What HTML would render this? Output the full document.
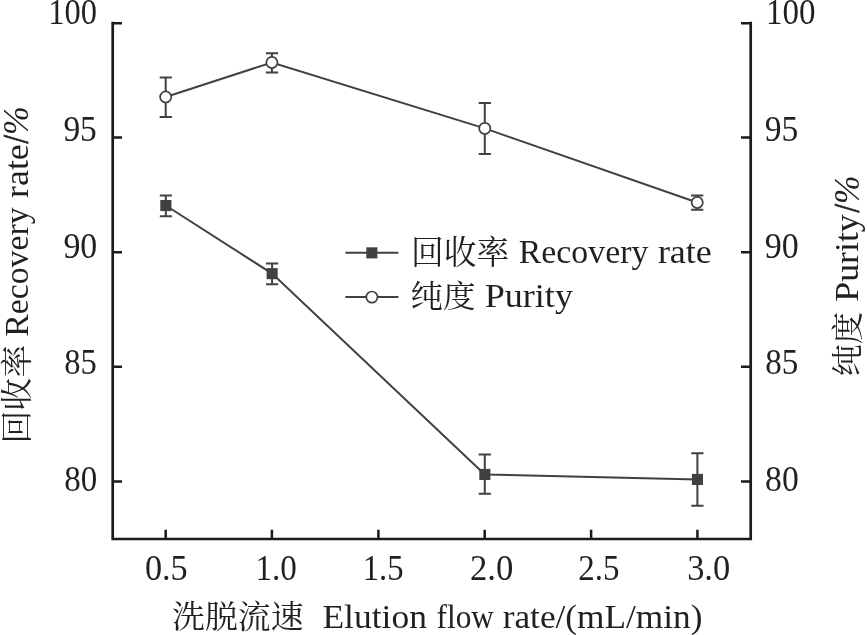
<!DOCTYPE html>
<html lang="zh">
<head>
<meta charset="utf-8">
<title>洗脱流速 Elution flow rate</title>
<style>
  html, body { margin: 0; padding: 0; background: #ffffff; }
  body { width: 867px; height: 635px; overflow: hidden; }
  svg { display: block; }
  text {
    font-family: "Liberation Serif", "Noto Serif CJK SC", serif;
    font-size: 34px;
    fill: #231f20;
  }
  .cjk { font-family: "Noto Serif CJK SC", "Liberation Serif", serif; font-size: 33px; }
  .it { font-style: italic; }
  .ax { stroke: #1d1a1b; stroke-width: 2.7; fill: none; stroke-linecap: butt; stroke-linejoin: miter; }
  .tk { stroke: #1d1a1b; stroke-width: 2.5; fill: none; }
  .ln { stroke: #414042; stroke-width: 2; fill: none; }
  .eb { stroke: #414042; stroke-width: 2; fill: none; }
  .sq { fill: #414042; stroke: none; }
  .ci { fill: #ffffff; stroke: #414042; stroke-width: 1.7; }
</style>
</head>
<body>
<svg width="867" height="635" viewBox="0 0 867 635">
  <rect x="0" y="0" width="867" height="635" fill="#ffffff"/>

  <!-- axes -->
  <g id="axes">
    <path class="ax" d="M112.7 21.8 V539 H750.7 V21.8"/>
    <path class="tk" d="M112.7 23.2 H122 M112.7 137.5 H122 M112.7 252.3 H122 M112.7 366.8 H122 M112.7 481.4 H122"/>
    <path class="tk" d="M750.7 23.2 H741 M750.7 137.5 H741 M750.7 252.3 H741 M750.7 366.8 H741 M750.7 481.4 H741"/>
    <path class="tk" d="M165.7 539 V529.8 M271.9 539 V529.8 M378.4 539 V529.8 M484.7 539 V529.8 M591.1 539 V529.8 M697.4 539 V529.8"/>
  </g>

  <!-- recovery series -->
  <g id="recovery">
    <polyline class="ln" points="165.8,205.5 272.1,273.6 484.8,474.4 697.4,479.4"/>
    <path class="eb" d="M165.8 195.5 V216.2 M159.8 195.5 H171.9 M159.8 216.2 H171.9"/>
    <path class="eb" d="M272.1 263.4 V284.2 M266 263.4 H278.2 M266 284.2 H278.2"/>
    <path class="eb" d="M484.8 454.6 V493.8 M478.7 454.6 H490.9 M478.7 493.8 H490.9"/>
    <path class="eb" d="M697.4 453.3 V505.7 M691.3 453.3 H703.5 M691.3 505.7 H703.5"/>
    <rect class="sq" x="160.3" y="200" width="11.1" height="11.1"/>
    <rect class="sq" x="266.6" y="268.1" width="11.1" height="11.1"/>
    <rect class="sq" x="479.3" y="468.9" width="11.1" height="11.1"/>
    <rect class="sq" x="691.9" y="473.9" width="11.1" height="11.1"/>
  </g>

  <!-- purity series -->
  <g id="purity">
    <polyline class="ln" points="165.7,97 271.9,62.5 484.8,128.4 697.2,202.5"/>
    <path class="eb" d="M165.7 77.5 V116.9 M159.7 77.5 H171.9 M159.7 116.9 H171.9"/>
    <path class="eb" d="M271.9 53.2 V72.5 M265.9 53.2 H278.1 M265.9 72.5 H278.1"/>
    <path class="eb" d="M484.8 103.1 V154 M478.7 103.1 H490.9 M478.7 154 H490.9"/>
    <path class="eb" d="M697.2 195.4 V209.7 M691.1 195.4 H703.3 M691.1 209.7 H703.3"/>
    <circle class="ci" cx="165.7" cy="97" r="5.6"/>
    <circle class="ci" cx="271.9" cy="62.5" r="5.6"/>
    <circle class="ci" cx="484.8" cy="128.4" r="5.6"/>
    <circle class="ci" cx="697.2" cy="202.5" r="5.6"/>
  </g>

  <!-- legend markers -->
  <g id="legend">
    <path class="ln" d="M345.4 252.8 H398.4"/>
    <rect class="sq" x="366.3" y="247.3" width="11.1" height="11.1"/>
    <path class="ln" d="M345.4 297.1 H398.4"/>
    <circle class="ci" cx="371.9" cy="297.1" r="5.6"/>
  </g>

  <!-- legend labels -->
  <g id="legendtext">
  <text id="lg1c" class="cjk" transform="translate(411.03 263.70) scale(0.9938 1.0000)">回收率</text>
  <text id="lg1e" transform="translate(518.73 262.70) scale(0.9949 1.0200)">Recovery</text>
  <text id="lg1f" transform="translate(657.88 262.70) scale(1.0593 1.0200)">rate</text>
  <text id="lg2c" class="cjk" transform="translate(410.53 307.10) scale(0.9870 0.9400)">纯度</text>
  <text id="lg2e" transform="translate(484.76 306.80) scale(1.0608 1.0200)">Purity</text>
  </g>

  <!-- left tick labels -->
  <g id="ylabL">
  <text id="yl100" transform="translate(48.34 24.20) scale(0.9568 1.0600)">100</text>
  <text id="yl95" transform="translate(63.42 141.00) scale(0.9818 1.0600)">95</text>
  <text id="yl90" transform="translate(63.41 257.80) scale(0.9965 1.0600)">90</text>
  <text id="yl85" transform="translate(64.26 374.40) scale(0.9561 1.0600)">85</text>
  <text id="yl80" transform="translate(64.24 491.20) scale(0.9710 1.0600)">80</text>
  </g>

  <!-- right tick labels -->
  <g id="ylabR">
  <text id="yr100" transform="translate(766.00 24.20) scale(0.9718 1.0600)">100</text>
  <text id="yr95" transform="translate(764.72 141.00) scale(0.9849 1.0600)">95</text>
  <text id="yr90" transform="translate(764.70 257.80) scale(0.9997 1.0600)">90</text>
  <text id="yr85" transform="translate(765.14 374.40) scale(0.9721 1.0600)">85</text>
  <text id="yr80" transform="translate(765.12 491.20) scale(0.9901 1.0600)">80</text>
  </g>

  <!-- x tick labels -->
  <g id="xlab">
  <text id="x05" transform="translate(144.90 580.20) scale(1.0056 1.0600)">0.5</text>
  <text id="x10" transform="translate(255.38 580.20) scale(0.9760 1.0600)">1.0</text>
  <text id="x15" transform="translate(362.73 580.20) scale(0.9611 1.0600)">1.5</text>
  <text id="x20" transform="translate(469.88 580.20) scale(1.0199 1.0600)">2.0</text>
  <text id="x25" transform="translate(578.25 580.20) scale(0.9703 1.0600)">2.5</text>
  <text id="x30" transform="translate(687.15 580.20) scale(1.0132 1.0600)">3.0</text>
  </g>

  <!-- x axis title -->
  <g id="xtitle">
  <text id="xtc" class="cjk" transform="translate(172.05 628.20) scale(0.9970 0.9600)">洗脱流速</text>
  <text id="xte1" transform="translate(322.38 628.30) scale(1.0445 1.0200)">Elution</text>
  <text id="xte2" transform="translate(436.54 628.30) scale(0.9210 1.0200)">flow</text>
  <text id="xte3" transform="translate(502.69 628.30) scale(1.0377 1.0200)">rate/(mL/min)</text>
  </g>

  <!-- left y axis title -->
  <g id="ytitleL">
  <text id="ylc" class="cjk" transform="translate(28.40 443.58) rotate(-90) scale(0.9959 0.9500)">回收率</text>
  <text id="yle" transform="translate(27.50 336.87) rotate(-90) scale(0.9949 1.0200)">Recovery</text>
  <text id="ylf" transform="translate(27.50 197.92) rotate(-90) scale(1.0532 1.0200)">rate</text>
  <text id="yls" stroke="#231f20" stroke-width="0.7" transform="translate(27.70 143.50) rotate(-90) scale(0.8998 1.0600)">/</text>
  <text id="ylp" class="it" transform="translate(27.80 135.07) rotate(-90) scale(1.0148 1.0500)">%</text>
  </g>

  <!-- right y axis title -->
  <g id="ytitleR">
  <text id="yrc" class="cjk" transform="translate(859.20 376.15) rotate(-90) scale(0.9775 0.9500)">纯度</text>
  <text id="yre" transform="translate(858.30 301.63) rotate(-90) scale(1.0511 1.0200)">Purity</text>
  <text id="yrs" stroke="#231f20" stroke-width="0.7" transform="translate(859.30 212.50) rotate(-90) scale(0.8998 1.0700)">/</text>
  <text id="yrp" class="it" transform="translate(859.30 204.05) rotate(-90) scale(1.0026 1.0500)">%</text>
  </g>
</svg>
</body>
</html>
